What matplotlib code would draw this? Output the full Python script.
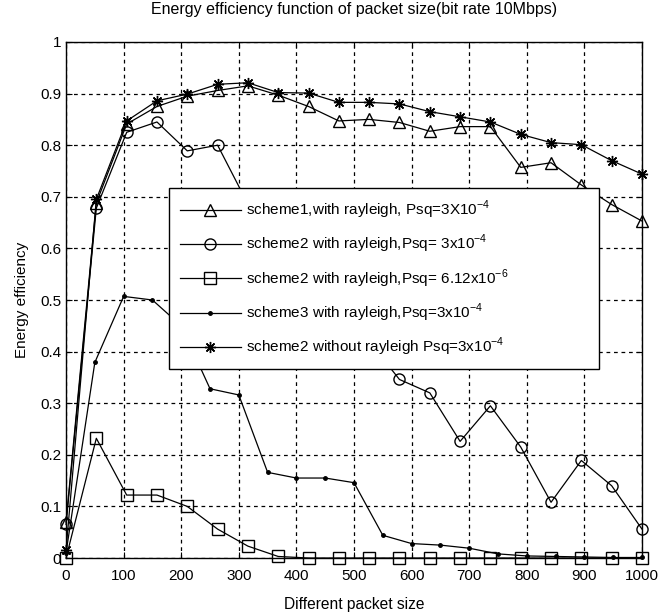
import matplotlib
matplotlib.use("Agg")
import matplotlib.pyplot as plt

plt.rcParams['font.family'] = ['Liberation Sans', 'DejaVu Sans']
plt.rcParams['mathtext.fontset'] = 'custom'
plt.rcParams['mathtext.rm'] = 'Liberation Sans'

# ---------- data ---------- #
x20 = [0, 52.6, 105.3, 157.9, 210.5, 263.2, 315.8, 368.4, 421.1, 473.7,
       526.3, 578.9, 631.6, 684.2, 736.8, 789.5, 842.1, 894.7, 947.4, 1000]
x21 = [0, 50, 100, 150, 200, 250, 300, 350, 400, 450, 500,
       550, 600, 650, 700, 750, 800, 850, 900, 950, 1000]

s1_tri = [0.07, 0.688, 0.841, 0.875, 0.895, 0.906, 0.915, 0.897, 0.875, 0.847,
          0.850, 0.844, 0.827, 0.836, 0.836, 0.757, 0.766, 0.723, 0.685, 0.653]
s2_circ = [0.065, 0.678, 0.825, 0.845, 0.789, 0.800, 0.686, 0.60, 0.53, 0.47,
           0.42, 0.346, 0.320, 0.226, 0.295, 0.215, 0.108, 0.189, 0.140, 0.056]
s2_sq = [0.0, 0.232, 0.122, 0.122, 0.100, 0.056, 0.023, 0.003, 0.0, 0.0,
         0.0, 0.0, 0.0, 0.0, 0.0, 0.0, 0.0, 0.0, 0.0, 0.0]
s3_dot = [0.01, 0.379, 0.507, 0.500, 0.450, 0.328, 0.316, 0.166, 0.155, 0.155,
          0.146, 0.044, 0.028, 0.025, 0.019, 0.008, 0.004, 0.003, 0.002, 0.001, 0.001]
s2_star = [0.015, 0.695, 0.847, 0.886, 0.899, 0.918, 0.921, 0.902, 0.901, 0.883,
           0.883, 0.880, 0.865, 0.855, 0.845, 0.821, 0.805, 0.801, 0.770, 0.744]

labels = [r"scheme1,with rayleigh, Psq=3X10$^{-4}$",
          r"scheme2 with rayleigh,Psq= 3x10$^{-4}$",
          r"scheme2 with rayleigh,Psq= 6.12x10$^{-6}$",
          r"scheme3 with rayleigh,Psq=3x10$^{-4}$",
          r"scheme2 without rayleigh Psq=3x10$^{-4}$"]

fig = plt.figure(figsize=(6.67, 6.13), dpi=100)
ax = fig.add_axes([0.099, 0.0897, 0.8635, 0.8418])

kw = dict(color="black", lw=0.9, mfc="none", mec="black", clip_on=False)
ax.plot(x20, s1_tri, marker="^", ms=8, label=labels[0], **kw)
ax.plot(x20, s2_circ, marker="o", ms=8, label=labels[1], **kw)
ax.plot(x20, s2_sq, marker="s", ms=8, label=labels[2], **kw)
ax.plot(x21, s3_dot, marker=".", ms=5, label=labels[3],
        color="black", lw=0.9, clip_on=False)
ax.plot(x20, s2_star, marker=(8, 2, 0), ms=8, mew=1.0, label=labels[4], **kw)

ax.set_xlim(0, 1000); ax.set_ylim(0, 1)
ax.set_xticks(range(0, 1001, 100))
ax.set_yticks([i / 10 for i in range(11)])
ax.set_yticklabels(["0", "0.1", "0.2", "0.3", "0.4", "0.5",
                    "0.6", "0.7", "0.8", "0.9", "1"])
ax.tick_params(direction="in", top=True, right=True, labelsize=11, length=4)
ax.tick_params(axis="x", pad=8)
ax.grid(True, color="black", linestyle=(0, (3, 3)), lw=0.9)
for s in ax.spines.values():
    s.set_linewidth(1.0)

ax.set_title("Energy efficiency function of packet size(bit rate 10Mbps)",
             fontsize=11.5, pad=20)
ax.set_xlabel("Different packet size", fontsize=11.2, labelpad=10)
ax.set_ylabel("Energy efficiency", fontsize=11, labelpad=8)

leg = ax.legend(loc="upper left", bbox_to_anchor=(0.179, 0.3727, 0.747, 0.3438),
                mode="expand", fontsize=11,
                frameon=True, fancybox=False, edgecolor="black",
                framealpha=1, handlelength=4.0, handletextpad=0.35,
                labelspacing=0.78, borderaxespad=0, borderpad=0.7)
leg.get_frame().set_linewidth(1.0)

fig.savefig("out.png", dpi=100)
